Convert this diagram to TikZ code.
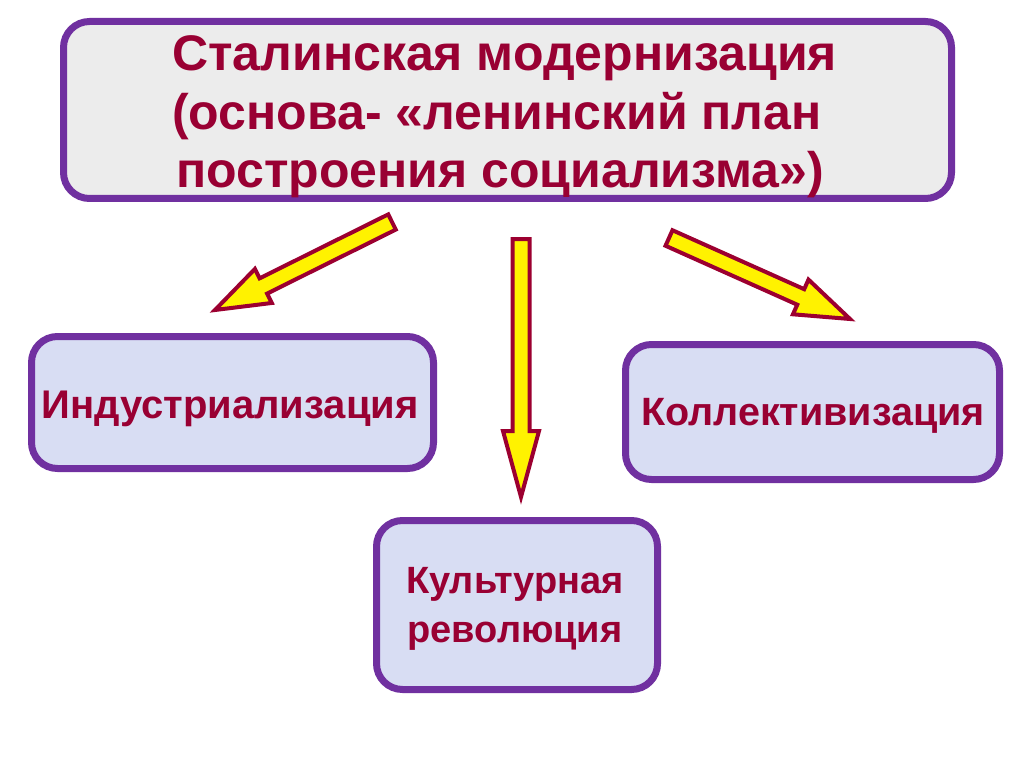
\documentclass[tikz,border=0pt]{standalone}
\usepackage{fontspec}
\setmainfont{Liberation Sans}
\usetikzlibrary{calc}
\definecolor{frame}{HTML}{7030A0}
\definecolor{ink}{HTML}{990033}
\definecolor{arrowline}{HTML}{9C0030}
\definecolor{boxfill}{RGB}{216,221,243}
\definecolor{topfill}{RGB}{236,236,236}
\newcommand\fatarrow[5]{%
  \coordinate (fa-c) at ($(#2)!#5!(#1)$);
  \draw[fatarrowstyle] ($(#1)!#3!90:(#2)$) -- ($(fa-c)!#3!90:(#2)$) -- ($(fa-c)!#4!90:(#2)$) -- (#2)
    -- ($(fa-c)!#4!-90:(#2)$) -- ($(fa-c)!#3!-90:(#2)$) -- ($(#1)!#3!-90:(#2)$) -- cycle;
}
\begin{document}
\begin{tikzpicture}[x=1pt,y=-1pt,
  box/.style={draw=frame, line width=7pt, rounded corners=26pt, fill=boxfill, inner sep=0pt},
  label/.style={text=ink, inner sep=0pt, font=\bfseries},
  fatarrowstyle/.style={draw=arrowline, fill=yellow, line width=4pt, line join=miter, miter limit=4}]
\path[use as bounding box, fill=white] (0,0) rectangle (1024,767);
% frames
\node[box, fill=topfill, minimum width=888pt, minimum height=177pt] (top) at (507.5,110) {};
\node[box, minimum width=402pt, minimum height=132pt] (ind) at (232.5,402.5) {};
\node[box, minimum width=374pt, minimum height=135pt] (col) at (812.5,412) {};
\node[box, minimum width=281pt, minimum height=169pt] (cul) at (517,605) {};
% texts
\node[label, anchor=base west, align=left, font=\fontsize{50}{58.5}\selectfont\bfseries] (toptext) at (172,188)
  {Сталинская модернизация\\(основа- «ленинский план\\\hspace*{4pt}построения социализма»)};
\node[label, anchor=base, font=\fontsize{40}{46}\selectfont\bfseries] (indtext) at (230,418) {Индустриализация};
\node[label, anchor=base, font=\fontsize{39.5}{46}\selectfont\bfseries] (coltext) at (813,425) {Коллективизация};
\node[label, anchor=base, align=center, font=\fontsize{38}{49}\selectfont\bfseries] (cultext) at (515,642) {Культурная\\революция};
% arrows
\coordinate (tl) at (392,222);
\coordinate (hl) at (215,310);
\coordinate (tm) at (521,239);
\coordinate (hm) at (521,497);
\coordinate (tr) at (669,238);
\coordinate (hr) at (850,319);
\fatarrow{tl}{hl}{8.5pt}{19pt}{54pt}
\fatarrow{tm}{hm}{8.5pt}{18pt}{66pt}
\fatarrow{tr}{hr}{8.5pt}{19pt}{54pt}
\end{tikzpicture}
\end{document}
